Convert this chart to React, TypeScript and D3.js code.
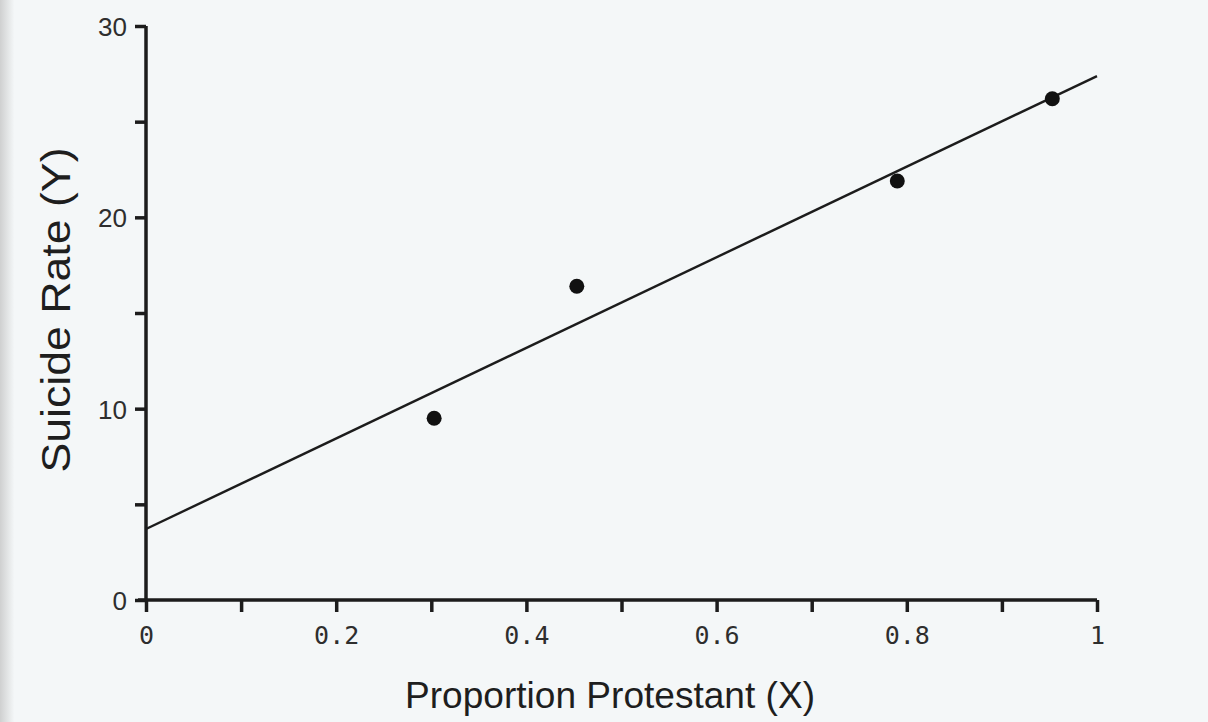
import React, { useEffect, useRef } from 'react';
import * as d3 from 'd3';

// data
const proportionProtestant = [0.303, 0.453, 0.79, 0.953];
const suicideRate = [9.5, 16.4, 21.9, 26.2];
const xTicks = [0, 0.1, 0.2, 0.3, 0.4, 0.5, 0.6, 0.7, 0.8, 0.9, 1];
const yTicks = [0, 5, 10, 15, 20, 25, 30];
const xLabelled = [0, 0.2, 0.4, 0.6, 0.8, 1];
const yLabelled = [0, 10, 20, 30];

const W = 1208;
const H = 722;

export default function App() {
  const ref = useRef<SVGSVGElement>(null);

  useEffect(() => {
    const svg = d3.select(ref.current);
    svg.selectAll('*').remove();

    // paper background
    const defs = svg.append('defs');
    const grad = defs.append('linearGradient').attr('id', 'edge')
      .attr('x1', 0).attr('x2', 1).attr('y1', 0).attr('y2', 0);
    grad.append('stop').attr('offset', 0).attr('stop-color', '#cfd0d0');
    grad.append('stop').attr('offset', 1).attr('stop-color', '#f3f6f7');
    svg.append('rect').attr('width', W).attr('height', H).attr('fill', '#f4f7f8');
    svg.append('rect').attr('width', 14).attr('height', H).attr('fill', 'url(#edge)');

    const x = d3.scaleLinear().domain([0, 1]).range([146, 1097]);
    const y = d3.scaleLinear().domain([0, 30]).range([600, 26]);

    const ink = '#1c1c1c';

    const yAxis = d3.axisLeft(y)
      .tickValues(yTicks)
      .tickSize(11)
      .tickPadding(8)
      .tickFormat((d: any) => (yLabelled.includes(d) ? String(d) : ''));
    const xAxis = d3.axisBottom(x)
      .tickValues(xTicks)
      .tickSize(12)
      .tickPadding(14)
      .tickFormat((d: any) => (xLabelled.some(v => Math.abs(v - d) < 1e-9) ? d3.format('~g')(d) : ''));

    const gy = svg.append('g').attr('transform', `translate(${x(0)},0)`).call(yAxis);
    gy.select('.domain').attr('d', `M0,${y(30)}V${y(0)}`);
    gy.selectAll('path, line').attr('stroke', ink).attr('stroke-width', 3.5);
    gy.selectAll('text')
      .attr('fill', '#2e2e2e')
      .attr('dy', '0.36em')
      .style('font-family', 'Liberation Sans, Arial, sans-serif')
      .style('font-size', '26px');

    const gx = svg.append('g').attr('transform', `translate(0,${y(0)})`).call(xAxis);
    gx.select('.domain').attr('d', `M${x(0) - 8},0H${x(1)}`);
    gx.selectAll('path, line').attr('stroke', ink).attr('stroke-width', 3.5);
    gx.selectAll('text')
      .attr('fill', '#2e2e2e')
      .style('font-family', 'DejaVu Sans Mono, Liberation Mono, monospace')
      .style('font-size', '25px');

    // least squares fit
    const mx = d3.mean(proportionProtestant) as number;
    const my = d3.mean(suicideRate) as number;
    const sxy = d3.sum(proportionProtestant, (v, i) => (v - mx) * (suicideRate[i] - my));
    const sxx = d3.sum(proportionProtestant, v => (v - mx) * (v - mx));
    const slope = sxy / sxx;
    const intercept = my - slope * mx;
    const fit = [0, 1].map(v => [v, intercept + slope * v] as [number, number]);

    svg.append('path')
      .datum(fit)
      .attr('d', d3.line<[number, number]>().x(d => x(d[0])).y(d => y(d[1])))
      .attr('fill', 'none')
      .attr('stroke', ink)
      .attr('stroke-width', 2.4);

    svg.append('g').selectAll('circle')
      .data(proportionProtestant)
      .join('circle')
      .attr('cx', d => x(d))
      .attr('cy', (d, i) => y(suicideRate[i]))
      .attr('r', 7.5)
      .attr('fill', '#111');

    svg.append('text')
      .attr('transform', `translate(70,310) rotate(-90)`)
      .attr('text-anchor', 'middle')
      .attr('fill', '#1e1e1e')
      .attr('textLength', 325)
      .attr('lengthAdjust', 'spacingAndGlyphs')
      .style('font-family', 'Liberation Sans, Arial, sans-serif')
      .style('font-size', '40px')
      .text('Suicide Rate (Y)');

    svg.append('text')
      .attr('x', 610)
      .attr('y', 708)
      .attr('text-anchor', 'middle')
      .attr('fill', '#1e1e1e')
      .attr('textLength', 410)
      .attr('lengthAdjust', 'spacingAndGlyphs')
      .style('font-family', 'Liberation Sans, Arial, sans-serif')
      .style('font-size', '36px')
      .text('Proportion Protestant (X)');
  }, []);

  return (
    <svg ref={ref} width={W} height={H}
      style={{ position: 'absolute', left: 0, top: 0, display: 'block' }} />
  );
}
